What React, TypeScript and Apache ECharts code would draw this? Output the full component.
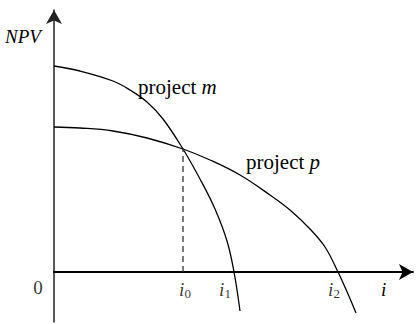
import React, { useEffect, useRef } from "react";
import * as echarts from "echarts";

// NPV profiles (i on x, NPV on y)
const projectM: [number, number][] = [
  [0, 20.6], [2.6, 20.1], [5.9, 19.1], [7.6, 18.2], [9.3, 17.0], [10.9, 15.3],
  [12.9, 12.3], [14.6, 9.3], [16.1, 6.3], [17.3, 3.1], [18.0, 0], [18.6, -3.9],
];
const projectP: [number, number][] = [
  [0, 14.5], [2.6, 14.4], [5.9, 14.1], [9.3, 13.4], [12.9, 12.3], [15.6, 11.2],
  [18.6, 9.7], [21.6, 7.7], [23.6, 6.2], [25.6, 4.3], [27.1, 2.5], [28.4, 0],
  [29.4, -2.2], [30.2, -4.1],
];
const crossover: [number, number] = [12.9, 12.3];
const tickValues = [0, 12.9, 18.0, 28.4];
const tickLabels = ["0", "i0", "i1", "i2"];
const tickOffsets = [-16, 2, -9, -4];

const FONT = "Liberation Serif, DejaVu Serif, serif";

export default function App() {
  const ref = useRef<HTMLDivElement>(null);
  useEffect(() => {
    if (!ref.current) return;
    const chart = echarts.init(ref.current, null, { renderer: "svg" });
    const tickData = tickValues.map((v, k) => ({
      value: [v, 0],
      label: {
        offset: [tickOffsets[k], 0],
        formatter:
          tickLabels[k] === "0" ? "{n|0}" : `{v|i}{s|${tickLabels[k].slice(1)}}`,
      },
    }));
    const txt = (s: string, left: number, top: number, size: number, italic: boolean, rich?: any) => ({
      type: "text",
      left,
      top,
      style: {
        text: s,
        fontFamily: FONT,
        fontSize: size,
        fontStyle: italic ? "italic" : "normal",
        fill: "#000",
        rich,
      },
    });
    const italicRich = { m: { fontStyle: "italic", fontSize: 21, fontFamily: FONT, color: "#000" } };
    chart.setOption({
      animation: false,
      grid: { left: 54, right: 7, top: 10, bottom: 2 },
      xAxis: {
        type: "value",
        min: 0,
        max: 35.9,
        axisLine: {
          onZero: true,
          symbol: ["none", "arrow"],
          symbolSize: [12, 14],
          lineStyle: { color: "#000", width: 2 },
        },
        axisTick: { show: false },
        axisLabel: { show: false },
        splitLine: { show: false },
      },
      yAxis: {
        type: "value",
        min: -5,
        max: 26.2,
        axisLine: {
          show: true,
          onZero: false,
          symbol: ["none", "arrow"],
          symbolSize: [12, 14],
          lineStyle: { color: "#222", width: 1.5 },
        },
        axisTick: { show: false },
        axisLabel: { show: false },
        splitLine: { show: false },
      },
      graphic: [
        txt("NPV", 5, 27, 19, true),
        txt("i", 381, 280, 19, true),
        txt("project {m|m}", 138, 76, 21, false, italicRich),
        txt("project {m|p}", 246, 151, 21, false, italicRich),
      ],
      series: [
        {
          name: "project m",
          type: "line",
          data: projectM,
          smooth: 0.4,
          showSymbol: false,
          lineStyle: { color: "#000", width: 1.3 },
        },
        {
          name: "project p",
          type: "line",
          data: projectP,
          smooth: 0.4,
          showSymbol: false,
          lineStyle: { color: "#000", width: 1.3 },
        },
        {
          name: "crossover",
          type: "line",
          data: [[crossover[0], 0], crossover],
          showSymbol: false,
          lineStyle: { color: "#333", width: 1.3, type: [6, 4] },
        },
        {
          name: "ticks",
          type: "scatter",
          symbolSize: 0,
          data: tickData,
          label: {
            show: true,
            position: "bottom",
            distance: 6,
            color: "#000",
            rich: {
              v: { fontStyle: "italic", fontSize: 19, fontFamily: FONT, color: "#000" },
              s: { fontSize: 13, fontFamily: FONT, color: "#000", padding: [9, 0, 0, 0] },
              n: { fontSize: 19, fontFamily: FONT, color: "#000" },
            },
          },
        },
      ],
    });
    return () => chart.dispose();
  }, []);
  return (
    <div
      ref={ref}
      style={{ position: "fixed", left: 0, top: 0, width: 420, height: 324, background: "#fff" }}
    />
  );
}
